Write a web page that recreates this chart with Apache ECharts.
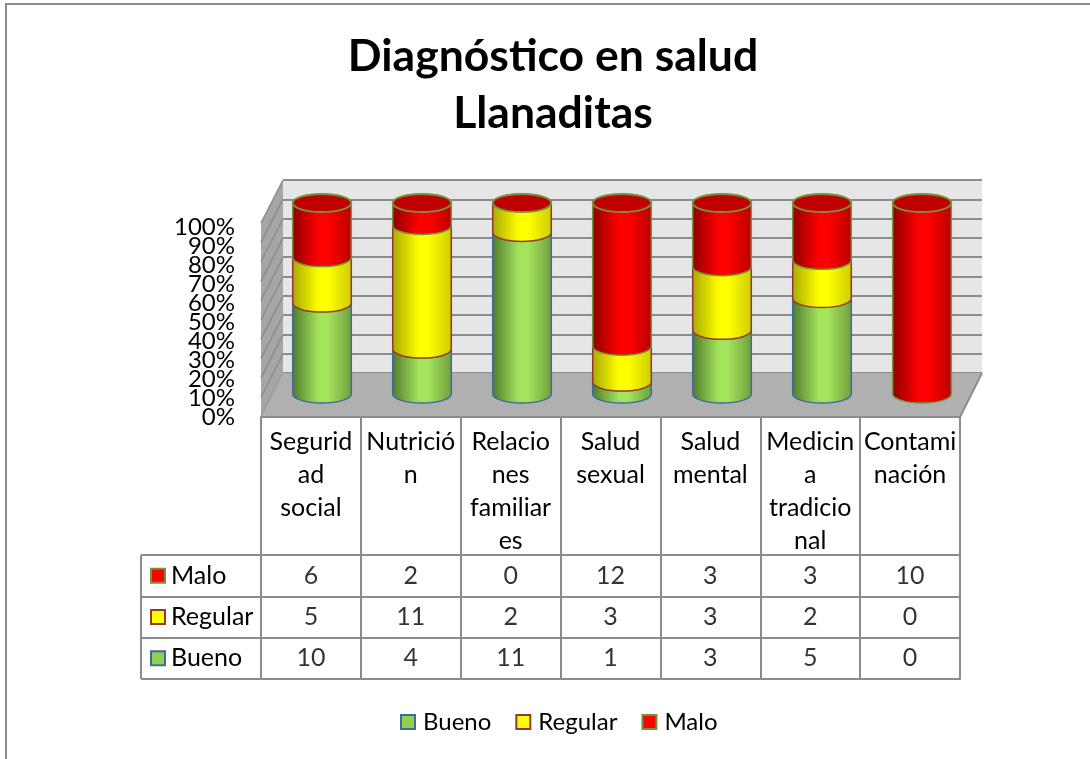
<!DOCTYPE html>
<html lang="es">
<head>
    <meta charset="UTF-8">
    <title>Diagnóstico en salud</title>
    <script src="https://cdn.jsdelivr.net/npm/echarts@6/dist/echarts.min.js"></script>
    <style>
        html, body { margin: 0; background: #fff; }
    </style>
</head>
<body>
<div id="main" style="width: 1090px;height:759px;"></div>
<script>
    var categorias = ['Segurid\nad\nsocial', 'Nutrició\nn', 'Relacio\nnes\nfamiliar\nes', 'Salud\nsexual', 'Salud\nmental', 'Medicin\na\ntradicio\nnal', 'Contami\nnación'];
    var filas = ['Bueno', 'Regular', 'Malo'];
    var bueno = [10, 4, 11, 1, 3, 5, 0];
    var regular = [5, 11, 2, 3, 3, 2, 0];
    var malo = [6, 2, 0, 12, 3, 3, 10];
    var ticksPct = [0, 10, 20, 30, 40, 50, 60, 70, 80, 90, 100];

    var fuente = 'Lato';
    var gris = '#8c8c8c';
    var valores = [bueno, regular, malo];
    var rellenos = ['#92d050', '#ffff00', '#ff0000'];
    var bordes = ['#3f6aa0', '#953735', '#76923c'];
    var degradados = [
        ['#4f7a2b', '#a4e45c', '#6f9e3c'],
        ['#a8a800', '#ffff00', '#cccc00'],
        ['#8c0000', '#ff0000', '#b80000']
    ];

    // tramos apilados al 100%: [categoria, inicio, fin]
    function tramos(idx) {
        return categorias.map(function (c, i) {
            var total = bueno[i] + regular[i] + malo[i];
            var antes = 0;
            for (var k = 0; k < idx; k++) antes += valores[k][i];
            return [i, antes / total * 100, (antes + valores[idx][i]) / total * 100];
        });
    }

    function cilindro(idx) {
        return function (params, api) {
            var i = api.value(0);
            var base = api.coord([i, api.value(1)]);
            var cima = api.coord([i, api.value(2)]);
            var rx = api.size([1, 0])[0] * 0.586 / 2;
            var ry = 9;
            var l = base[0] - rx, r = base[0] + rx;
            var hijos = [];
            if (api.value(2) > api.value(1)) {
                var d = degradados[idx];
                hijos.push({
                    type: 'path',
                    shape: {
                        pathData: 'M' + l + ' ' + cima[1] + 'L' + l + ' ' + base[1] +
                            'A' + rx + ' ' + ry + ' 0 0 0 ' + r + ' ' + base[1] +
                            'L' + r + ' ' + cima[1] +
                            'A' + rx + ' ' + ry + ' 0 0 0 ' + l + ' ' + cima[1] + 'Z'
                    },
                    style: {
                        fill: new echarts.graphic.LinearGradient(0, 0, 1, 0, [
                            { offset: 0, color: d[0] },
                            { offset: 0.45, color: d[1] },
                            { offset: 0.6, color: d[1] },
                            { offset: 1, color: d[2] }
                        ]),
                        stroke: bordes[idx],
                        lineWidth: 1.5
                    }
                });
            }
            // la tapa solo se ve en la serie de arriba
            if (idx === 2) {
                hijos.push({
                    type: 'ellipse',
                    shape: { cx: cima[0], cy: cima[1], rx: rx, ry: ry },
                    style: { fill: '#c00000', stroke: bordes[idx], lineWidth: 2 }
                });
            }
            return { type: 'group', children: hijos };
        };
    }

    // lineas diagonales de la pared izquierda
    var pared = [];
    for (var t = 0; t < ticksPct.length; t++) {
        var yF = 223 + t * 19.35;
        pared.push({
            type: 'line', z: 1,
            shape: { x1: 261, y1: yF, x2: 283, y2: yF - 43 },
            style: { stroke: gris, lineWidth: 1.5 }
        });
    }

    var datosTabla = [];
    filas.forEach(function (f, r) {
        categorias.forEach(function (c, i) {
            datosTabla.push([i, r, valores[r][i]]);
        });
    });

    var series = filas.map(function (nombre, idx) {
        return {
            name: nombre,
            type: 'custom',
            xAxisIndex: 2,
            yAxisIndex: 2,
            z: 3,
            silent: true,
            itemStyle: { color: rellenos[idx], borderColor: bordes[idx], borderWidth: 2 },
            encode: { x: 0, y: [1, 2] },
            data: tramos(idx),
            renderItem: cilindro(idx)
        };
    });
    series.push({
        name: 'tabla',
        type: 'scatter',
        xAxisIndex: 3,
        yAxisIndex: 3,
        symbolSize: 0,
        silent: true,
        label: {
            show: true,
            position: 'inside',
            color: '#000',
            fontFamily: fuente,
            fontSize: 25,
            formatter: function (p) { return p.value[2]; }
        },
        data: datosTabla
    });

    var richFilas = { nombre: { fontFamily: fuente, fontSize: 25, color: '#000', padding: [0, 0, 0, 7] } };
    filas.forEach(function (f, idx) {
        richFilas['k' + idx] = {
            width: 12, height: 12,
            backgroundColor: rellenos[idx],
            borderColor: bordes[idx],
            borderWidth: 2
        };
    });

    // las etiquetas del eje se pisan: van en dos ejes alternos para que no se oculten
    function ejePct(valoresEje) {
        return {
            gridIndex: 0, type: 'value', position: 'left', min: 0, max: 100, interval: 10,
            axisLine: { show: false }, axisTick: { show: false }, splitLine: { show: false },
            axisLabel: {
                margin: 26, color: '#000', fontFamily: fuente, fontSize: 24, formatter: '{value}%',
                customValues: valoresEje
            }
        };
    }

    var myChart = echarts.init(document.getElementById('main'));
    var option = {
        animation: false,
        backgroundColor: '#fff',
        title: {
            text: 'Diagnóstico en salud\nLlanaditas',
            left: 548,
            textAlign: 'center',
            top: 23,
            textStyle: { fontFamily: fuente, fontSize: 44.5, fontWeight: 'bold', color: '#000', lineHeight: 57 }
        },
        legend: {
            data: filas,
            left: 400,
            top: 710,
            padding: 0,
            icon: 'rect',
            itemWidth: 14,
            itemHeight: 14,
            itemGap: 24,
            selectedMode: false,
            textStyle: { fontFamily: fuente, fontSize: 24, color: '#000', padding: [0, 0, 0, 3] }
        },
        grid: [
            { left: 261, top: 227, width: 699, height: 190 },
            { left: 283, top: 180, width: 699, height: 193, show: true, backgroundColor: '#e6e6e6', borderWidth: 0 },
            { left: 272, top: 203, width: 700, height: 191 },
            { left: 261, top: 555, width: 699, height: 124 }
        ],
        xAxis: [
            {
                gridIndex: 0, type: 'category', data: categorias, z: 3,
                axisLine: { lineStyle: { color: gris, width: 2 } },
                axisTick: { show: true, length: 138, interval: 0, lineStyle: { color: gris, width: 2 } },
                axisLabel: { interval: 0, margin: 8, color: '#000', fontFamily: fuente, fontSize: 25, lineHeight: 33 }
            },
            { gridIndex: 1, type: 'category', data: categorias, axisLine: { show: false }, axisTick: { show: false }, axisLabel: { show: false } },
            { gridIndex: 2, type: 'category', data: categorias, axisLine: { show: false }, axisTick: { show: false }, axisLabel: { show: false } },
            {
                gridIndex: 3, type: 'category', data: categorias,
                axisLine: { show: true, lineStyle: { color: gris, width: 2 } },
                axisTick: { show: false },
                axisLabel: { show: false },
                splitLine: { show: true, interval: 0, lineStyle: { color: gris, width: 2 } }
            }
        ],
        yAxis: [
            ejePct(ticksPct.filter(function (v, i) { return i % 2 === 0; })),
            {
                gridIndex: 1, type: 'value', min: 0, max: 100, interval: 10,
                axisLine: { show: false }, axisTick: { show: false }, axisLabel: { show: false },
                splitLine: { show: true, showMinLine: true, showMaxLine: true, lineStyle: { color: gris, width: 2 } }
            },
            {
                gridIndex: 2, type: 'value', min: 0, max: 100, interval: 10,
                axisLine: { show: false }, axisTick: { show: false }, axisLabel: { show: false }, splitLine: { show: false }
            },
            {
                gridIndex: 3, type: 'category', data: filas,
                axisLine: { show: false },
                axisTick: { show: true, length: 120, interval: 0, lineStyle: { color: gris, width: 2 } },
                axisLabel: {
                    interval: 0,
                    margin: 109,
                    align: 'left',
                    formatter: function (v) {
                        return '{k' + filas.indexOf(v) + '|}{nombre|' + v + '}';
                    },
                    rich: richFilas
                },
                splitLine: { show: true, interval: 0, lineStyle: { color: gris, width: 2 } }
            },
            ejePct(ticksPct.filter(function (v, i) { return i % 2 === 1; }))
        ],
        graphic: {
            elements: [
                { type: 'polyline', shape: { points: [[1090, 4], [6, 4], [6, 759]] }, style: { fill: null, stroke: gris, lineWidth: 2 } },
                { type: 'polygon', z: 0, shape: { points: [[261, 223], [283, 180], [283, 373], [261, 417]] }, style: { fill: '#a6a6a6' } }
            ].concat(pared).concat([
                { type: 'polygon', z: 1, shape: { points: [[283, 373], [982, 373], [960, 417], [261, 417]] }, style: { fill: '#b0b0b0' } },
                { type: 'line', z: 1, shape: { x1: 960, y1: 417, x2: 982, y2: 373 }, style: { stroke: gris, lineWidth: 2 } },
                { type: 'line', shape: { x1: 141, y1: 555, x2: 141, y2: 679 }, style: { stroke: gris, lineWidth: 2 } }
            ])
        },
        series: series
    };
    myChart.setOption(option);
</script>
</body>
</html>
